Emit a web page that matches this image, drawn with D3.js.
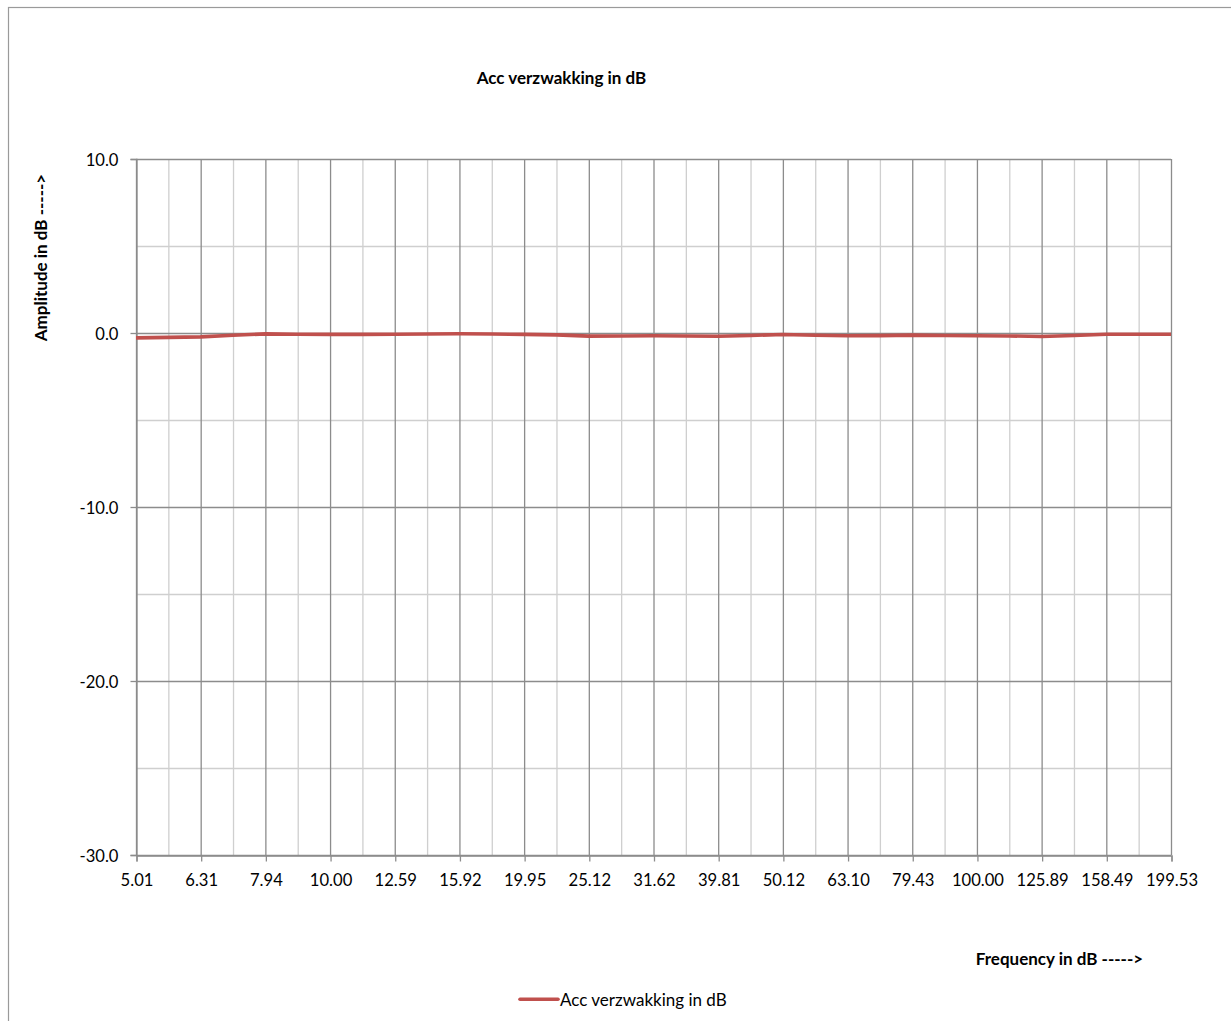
<!DOCTYPE html>
<html>
<head>
<meta charset="utf-8">
<script src="https://cdn.jsdelivr.net/npm/d3@7"></script>
<style>
  html, body { margin: 0; padding: 0; background: #fff; }
  svg { display: block; }
  text { font-family: Lato, "Open Sans", sans-serif; fill: #000; }
</style>
</head>
<body>
<svg id="chart" width="1231" height="1021"></svg>
<script>
// Data
const frequencies = ["5.01","5.62","6.31","7.08","7.94","8.91","10.00","11.22","12.59","14.13",
  "15.92","17.78","19.95","22.39","25.12","28.18","31.62","35.48","39.81","44.67","50.12",
  "56.23","63.10","70.79","79.43","89.13","100.00","112.20","125.89","141.25","158.49","177.83","199.53"];
const attenuation = [-0.28,-0.25,-0.22,-0.13,-0.05,-0.07,-0.08,-0.08,-0.07,-0.06,
  -0.04,-0.06,-0.08,-0.11,-0.18,-0.17,-0.16,-0.17,-0.19,-0.14,-0.09,
  -0.13,-0.16,-0.15,-0.12,-0.14,-0.16,-0.17,-0.20,-0.14,-0.07,-0.07,-0.07];
const yMajorTicks = [-30, -20, -10, 0, 10];
const yMinorTicks = [-25, -15, -5, 5];
const seriesName = "Acc verzwakking in dB";
const chartTitle = "Acc verzwakking in dB";
const xTitle = "Frequency in dB ----->";
const yTitle = "Amplitude in dB ----->";

const svg = d3.select("#chart");
const pLeft = 136, pRight = 1171, pTop = 159, pBottom = 855;
const labelSize = "16.6px";
const titleSize = "17px";

// outer border
svg.append("rect").attr("x", 8.5).attr("y", 7.5).attr("width", 1240).attr("height", 1040)
  .attr("fill", "none").attr("stroke", "#9a9a9a").attr("stroke-width", 1.2);

const x = d3.scalePoint().domain(frequencies).range([pLeft, pRight]);
const y = d3.scaleLinear().domain([-30, 10]).range([pBottom, pTop]);

const g = svg.append("g");

// minor vertical gridlines (unlabeled categories)
g.selectAll(".vminor").data(frequencies.filter((d, i) => i % 2 === 1)).enter().append("line")
  .attr("x1", d => x(d) + 0.5).attr("x2", d => x(d) + 0.5)
  .attr("y1", pTop).attr("y2", pBottom)
  .attr("stroke", "#cfcfcf").attr("stroke-width", 1.3);
// minor horizontal gridlines
g.selectAll(".hminor").data(yMinorTicks).enter().append("line")
  .attr("x1", pLeft).attr("x2", pRight)
  .attr("y1", d => Math.round(y(d)) + 0.5).attr("y2", d => Math.round(y(d)) + 0.5)
  .attr("stroke", "#cfcfcf").attr("stroke-width", 1.3);
// major vertical gridlines
g.selectAll(".vmajor").data(frequencies.filter((d, i) => i % 2 === 0)).enter().append("line")
  .attr("x1", d => x(d) + 0.5).attr("x2", d => x(d) + 0.5)
  .attr("y1", pTop).attr("y2", pBottom)
  .attr("stroke", "#8c8c8c").attr("stroke-width", 1.3);
// major horizontal gridlines
g.selectAll(".hmajor").data(yMajorTicks).enter().append("line")
  .attr("x1", pLeft).attr("x2", pRight)
  .attr("y1", d => Math.round(y(d)) + 0.5).attr("y2", d => Math.round(y(d)) + 0.5)
  .attr("stroke", "#8c8c8c").attr("stroke-width", 1.3);

// y axis
const yAxis = d3.axisLeft(y).tickValues(yMajorTicks).tickFormat(d => d.toFixed(1)).tickSize(6).tickPadding(12);
const ya = svg.append("g").attr("transform", `translate(${pLeft + 0.5},0)`).call(yAxis);
ya.select(".domain").attr("stroke", "#8c8c8c").attr("stroke-width", 1.3);
ya.selectAll(".tick line").attr("stroke", "#8c8c8c").attr("stroke-width", 1.3);
ya.selectAll(".tick text").style("font-size", labelSize).attr("fill", "#000").attr("dy", "0.4em");

// x axis
const xAxis = d3.axisBottom(x).tickValues(frequencies.filter((d, i) => i % 2 === 0)).tickSize(6).tickPadding(0);
const xa = svg.append("g").attr("transform", `translate(0.5,${pBottom + 0.5})`).call(xAxis);
xa.select(".domain").attr("stroke", "#8c8c8c").attr("stroke-width", 1.3);
xa.selectAll(".tick line").attr("stroke", "#8c8c8c").attr("stroke-width", 1.3);
xa.selectAll(".tick text").style("font-size", labelSize).attr("fill", "#000")
  .attr("y", 30.5).attr("dy", null);

// series line
const line = d3.line().x((d, i) => x(frequencies[i])).y(d => y(d));
svg.append("path").datum(attenuation)
  .attr("d", line).attr("fill", "none")
  .attr("stroke", "#c0504d").attr("stroke-width", 3.6).attr("stroke-linejoin", "round");

// titles
svg.append("text").attr("x", 561.5).attr("y", 83.5).attr("text-anchor", "middle")
  .style("font-size", titleSize).style("font-weight", "bold").text(chartTitle);
svg.append("text").attr("x", 1059.5).attr("y", 965).attr("text-anchor", "middle")
  .style("font-size", titleSize).style("font-weight", "bold").text(xTitle);
svg.append("text").attr("transform", "translate(47,257.5) rotate(-90)").attr("text-anchor", "middle")
  .style("font-size", titleSize).style("font-weight", "bold").text(yTitle);

// legend
svg.append("line").attr("x1", 520).attr("x2", 558).attr("y1", 999.3).attr("y2", 999.3)
  .attr("stroke", "#c0504d").attr("stroke-width", 3.6).attr("stroke-linecap", "round");
svg.append("text").attr("x", 560).attr("y", 1005.5).style("font-size", titleSize).text(seriesName);
</script>
</body>
</html>
